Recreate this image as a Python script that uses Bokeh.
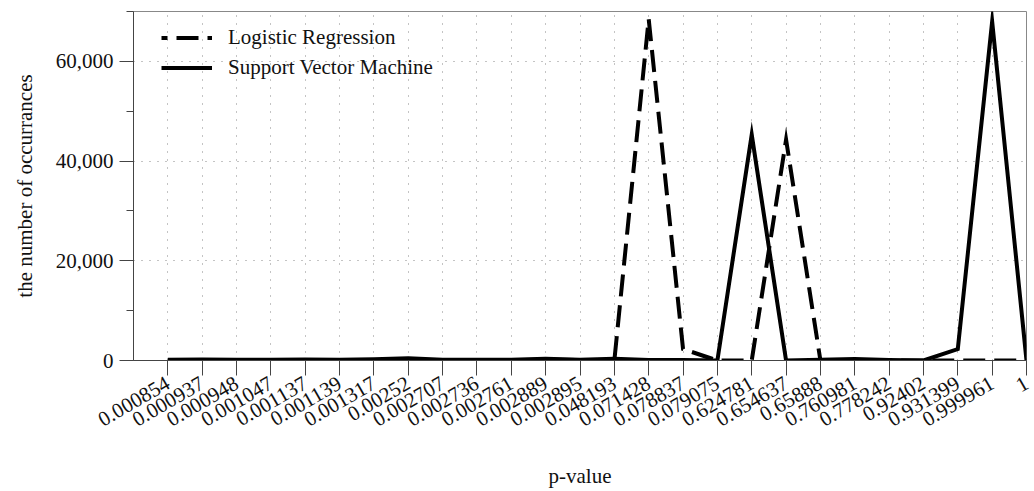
from bokeh.plotting import figure
from bokeh.models import (Range1d, FixedTicker, SingleIntervalTicker, NumeralTickFormatter,
                          Legend, LegendItem)
from bokeh.embed import file_html
from bokeh.resources import INLINE
import math

# ---- data ----
p_values = ["0.000854", "0.000937", "0.000948", "0.001047", "0.001137", "0.001139",
            "0.001317", "0.00252", "0.002707", "0.002736", "0.002761", "0.002889",
            "0.002895", "0.048193", "0.071428", "0.078837", "0.079075", "0.624781",
            "0.654637", "0.65888", "0.760981", "0.778242", "0.92402", "0.931399",
            "0.999961", "1"]
logistic_regression = [100, 100, 100, 100, 100, 100, 100, 150, 100, 100, 100, 150,
                       100, 0, 68500, 2300, 0, 0, 44300, 0, 0, 0, 0, 0, 0, 0]
support_vector_machine = [150, 200, 150, 150, 200, 150, 250, 450, 150, 150, 150, 350,
                          150, 350, 100, 100, 0, 45300, 0, 150, 300, 100, 0, 2300,
                          68000, 0]
y_ticks = [0, 20000, 40000, 60000]

x_idx = list(range(len(p_values)))
FONT = "Liberation Serif"
FS = "21px"

p = figure(frame_width=893, frame_height=349, output_backend="svg", toolbar_location=None,
           x_range=Range1d(-1, len(p_values) - 1), y_range=Range1d(0, 70000),
           min_border_left=133, min_border_top=11, min_border_right=8, min_border_bottom=131)
p.background_fill_color = "white"
p.border_fill_color = "white"
p.outline_line_color = "#888888"

lr = p.line(x_idx, logistic_regression, line_color="black", line_width=4,
            line_dash="22 9", line_dash_offset=16, line_join="miter")
svm = p.line(x_idx, support_vector_machine, line_color="black", line_width=4,
             line_join="miter")

# axes
p.xaxis.ticker = FixedTicker(ticks=x_idx)
p.xaxis.major_label_overrides = {i: s for i, s in enumerate(p_values)}
p.xaxis.major_label_orientation = math.pi / 6
p.yaxis.ticker = SingleIntervalTicker(interval=20000, num_minor_ticks=2)
p.yaxis.formatter = NumeralTickFormatter(format="0,0")
p.xaxis.axis_label = "p-value"
p.yaxis.axis_label = "the number of occurrances"
for ax in (p.xaxis, p.yaxis):
    ax.axis_line_color = "#444444"
    ax.major_tick_line_color = "#444444"
    ax.minor_tick_line_color = "#444444"
    ax.major_tick_in = 0
    ax.minor_tick_in = 0
    ax.major_label_text_font = FONT
    ax.major_label_text_font_size = FS
    ax.major_label_text_color = "#111111"
    ax.axis_label_text_font = FONT
    ax.axis_label_text_font_size = FS
    ax.axis_label_text_font_style = "normal"
    ax.axis_label_text_color = "#111111"
p.xaxis.major_tick_out = 15
p.xaxis.minor_tick_out = 0
p.yaxis.major_tick_out = 14
p.yaxis.minor_tick_out = 7
p.xaxis.major_label_standoff = 6
p.yaxis.major_label_standoff = 6
p.xaxis.axis_label_standoff = 28
p.yaxis.axis_label_standoff = 16

# grid
p.xgrid.ticker = FixedTicker(ticks=x_idx)
p.ygrid.ticker = FixedTicker(ticks=y_ticks)
for g in (p.xgrid, p.ygrid):
    g.grid_line_color = "#888888"
    g.grid_line_dash = "1 7"
    g.grid_line_width = 1

legend = Legend(items=[LegendItem(label="Logistic Regression", renderers=[lr]),
                       LegendItem(label="Support Vector Machine", renderers=[svm])],
                location=(28, 280), padding=0, margin=0, spacing=5,
                glyph_width=51, glyph_height=21, label_height=21, label_standoff=16,
                label_text_font=FONT, label_text_font_size=FS,
                label_text_color="#111111",
                border_line_color=None, background_fill_alpha=0)
p.add_layout(legend)

open("out.html", "w").write(file_html(p, INLINE))
